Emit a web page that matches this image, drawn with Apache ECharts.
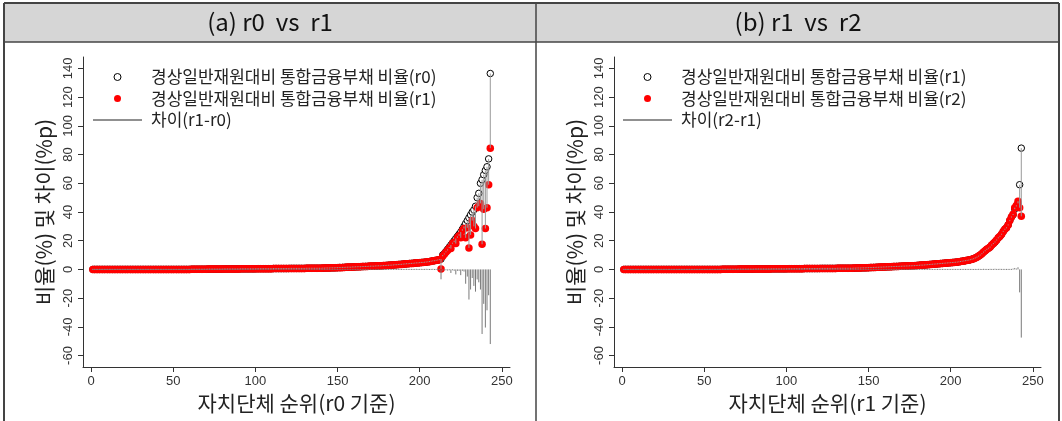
<!DOCTYPE html>
<html><head><meta charset="utf-8">
<script src="https://cdn.jsdelivr.net/npm/echarts@6/dist/echarts.min.js"></script>
<style>html,body{margin:0;padding:0;background:#fff}#c{width:1062px;height:421px}</style>
</head><body><div id="c"></div>
<script>
// ---- data ----
// Panel (a): municipalities ranked by r0
const A_R0 = [
0,0,0,0,0,0,0,0,0,0, 0,0,0,0,0,0,0,0,0,0, 0,0,0,0,0,0,0,0,0,0,
0,0,0,0,0,0,0,0,0,0, 0,0,0,0,0,0,0,0,0,0, 0,0,0,0,0,0,0,0,0,0,
0.1,0.1,0.1,0.1,0.1,0.1,0.1,0.1,0.1,0.1, 0.2,0.2,0.2,0.2,0.2,0.2,0.2,0.2,0.2,0.2,
0.3,0.3,0.3,0.3,0.3,0.3,0.3,0.3,0.3,0.3, 0.4,0.4,0.4,0.4,0.4,0.4,0.4,0.4,0.4,0.4,
0.5,0.5,0.5,0.5,0.5,0.5,0.5,0.5,0.5,0.5, 0.6,0.6,0.6,0.6,0.6,0.6,0.6,0.6,0.6,0.6,
0.7,0.7,0.7,0.7,0.7,0.7,0.7,0.7,0.7,0.7, 0.8,0.8,0.8,0.8,0.8,0.8,0.8,0.8,0.8,0.8,
0.9,0.9,1.0,1.0,1.0,1.1,1.1,1.1,1.2,1.2,
1.3,1.3,1.4,1.4,1.5,1.5,1.6,1.6,1.7,1.7, 1.8,1.8,1.9,1.9,2.0,2.0,2.1,2.1,2.2,2.2,
2.3,2.3,2.4,2.4,2.5,2.5,2.6,2.6,2.7,2.8, 2.9,3.0,3.0,3.1,3.2,3.3,3.4,3.5,3.6,3.7,
3.8,3.9,4.0,4.1,4.2,4.3,4.4,4.5,4.6,4.7, 4.8,4.9,5.0,5.1,5.3,5.5,5.7,5.9,6.1,6.3,
6.5,6.8,7.2,
10.0,11.0,12.5,14.0,15.5,17.0,18.5,20.0,21.5,23.0,
24.5,26.0,28.0,30.0,32.0,34.0,36.0,38.0,40.0,41.5,
44.0,50.0,53.0,60.0,62.5,66.0,69.0,71.5,77.0,136.5
];
const A_R1 = [
0,0,0,0,0,0,0,0,0,0, 0,0,0,0,0,0,0,0,0,0, 0,0,0,0,0,0,0,0,0,0,
0,0,0,0,0,0,0,0,0,0, 0,0,0,0,0,0,0,0,0,0, 0,0,0,0,0,0,0,0,0,0,
0.1,0.1,0.1,0.1,0.1,0.1,0.1,0.1,0.1,0.1, 0.2,0.2,0.2,0.2,0.2,0.2,0.2,0.2,0.2,0.2,
0.3,0.3,0.3,0.3,0.3,0.3,0.3,0.3,0.3,0.3, 0.4,0.4,0.4,0.4,0.4,0.4,0.4,0.4,0.4,0.4,
0.5,0.5,0.5,0.5,0.5,0.5,0.5,0.5,0.5,0.5, 0.6,0.6,0.6,0.6,0.6,0.6,0.6,0.6,0.6,0.6,
0.7,0.7,0.7,0.7,0.7,0.7,0.7,0.7,0.7,0.7, 0.8,0.8,0.8,0.8,0.8,0.8,0.8,0.8,0.8,0.8,
0.9,0.9,1.0,1.0,1.0,1.1,1.1,1.1,1.2,1.2,
1.3,1.2,1.4,1.4,1.5,1.6,1.6,1.5,1.7,1.7, 1.8,1.9,1.9,1.8,2.0,2.0,2.1,2.0,2.2,2.3,
2.3,2.2,2.4,2.5,2.5,2.4,2.6,2.7,2.7,2.8, 2.9,2.9,3.0,3.1,3.3,3.2,3.4,3.5,3.5,3.7,
3.8,4.0,3.9,4.1,4.2,4.2,4.4,4.6,4.5,4.7, 4.9,4.8,5.0,5.2,5.3,5.4,5.7,6.0,6.0,6.3,
6.6,6.8,0.3,
9.2,10.5,12.0,13.2,15.0,14.5,18.0,19.0,18.0,22.0,
23.5,22.0,27.0,28.5,22.0,29.0,15.0,24.0,34.0,30.0,
28.5,43.0,44.0,46.0,17.5,42.0,28.5,43.0,59.0,84.5
];
// Panel (b): municipalities ranked by r1
const B_R1 = [
0,0,0,0,0,0,0,0,0,0, 0,0,0,0,0,0,0,0,0,0, 0,0,0,0,0,0,0,0,0,0,
0,0,0,0,0,0,0,0,0,0, 0,0,0,0,0,0,0,0,0,0, 0,0,0,0,0,0,0,0,0,0,
0.1,0.1,0.1,0.1,0.1,0.1,0.1,0.1,0.1,0.1, 0.2,0.2,0.2,0.2,0.2,0.2,0.2,0.2,0.2,0.2,
0.3,0.3,0.3,0.3,0.3,0.3,0.3,0.3,0.3,0.3, 0.4,0.4,0.4,0.4,0.4,0.4,0.4,0.4,0.4,0.4,
0.5,0.5,0.5,0.5,0.5,0.5,0.5,0.5,0.5,0.5, 0.6,0.6,0.6,0.6,0.6,0.6,0.6,0.6,0.6,0.6,
0.7,0.7,0.7,0.7,0.7,0.7,0.7,0.7,0.7,0.7, 0.8,0.8,0.8,0.8,0.8,0.8,0.8,0.8,0.8,0.8,
0.9,0.9,1.0,1.0,1.0,1.1,1.1,1.1,1.2,1.2,
1.3,1.3,1.4,1.4,1.5,1.5,1.6,1.6,1.7,1.7, 1.8,1.8,1.9,1.9,2.0,2.0,2.1,2.1,2.2,2.2,
2.3,2.3,2.4,2.4,2.5,2.5,2.6,2.6,2.7,2.8, 2.9,3.0,3.0,3.1,3.2,3.3,3.4,3.5,3.6,3.7,
3.8,3.9,4.0,4.1,4.2,4.3,4.4,4.5,4.6,4.7, 4.8,4.9,5.0,5.1,5.3,5.5,5.7,5.9,6.1,6.3,
6.5,6.8,7.1,
7.5,8.0,8.6,9.2,10.0,11.0,12.0,13.0,14.0,14.8,
15.5,17.0,18.0,19.0,20.5,22.0,23.0,24.5,26.5,28.0,
29.0,31.0,34.0,36.5,38.0,42.0,44.0,46.0,59.0,84.5
];
const B_R2 = [
0,0,0,0,0,0,0,0,0,0, 0,0,0,0,0,0,0,0,0,0, 0,0,0,0,0,0,0,0,0,0,
0,0,0,0,0,0,0,0,0,0, 0,0,0,0,0,0,0,0,0,0, 0,0,0,0,0,0,0,0,0,0,
0.1,0.1,0.1,0.1,0.1,0.1,0.1,0.1,0.1,0.1, 0.2,0.2,0.2,0.2,0.2,0.2,0.2,0.2,0.2,0.2,
0.3,0.3,0.3,0.3,0.3,0.3,0.3,0.3,0.3,0.3, 0.4,0.4,0.4,0.4,0.4,0.4,0.4,0.4,0.4,0.4,
0.5,0.5,0.5,0.5,0.5,0.5,0.5,0.5,0.5,0.5, 0.6,0.6,0.6,0.6,0.6,0.6,0.6,0.6,0.6,0.6,
0.7,0.7,0.7,0.7,0.7,0.7,0.7,0.7,0.7,0.7, 0.8,0.8,0.8,0.8,0.8,0.8,0.8,0.8,0.8,0.8,
0.9,0.9,1.0,1.0,1.0,1.1,1.1,1.1,1.2,1.2,
1.3,1.3,1.4,1.4,1.5,1.5,1.6,1.6,1.7,1.7, 1.8,1.8,1.9,1.9,2.0,2.1,2.1,2.1,2.2,2.2,
2.3,2.3,2.4,2.4,2.5,2.5,2.6,2.6,2.7,2.8, 2.9,3.0,3.0,3.1,3.2,3.3,3.4,3.5,3.6,3.7,
3.8,3.9,4.0,4.1,4.2,4.3,4.4,4.5,4.6,4.7, 4.8,4.9,5.0,5.1,5.3,5.5,5.7,5.9,6.1,6.3,
6.5,6.8,7.1,
7.4,8.0,8.5,9.3,10.0,10.9,12.1,13.0,14.0,14.7,
15.6,17.0,18.0,19.2,20.5,22.0,23.1,24.5,26.5,28.0,
29.0,31.0,34.0,36.5,38.5,43.0,44.5,47.5,43.0,37.0
];
const Y_TICKS = [-60,-40,-20,0,20,40,60,80,100,120,140];
const X_TICKS = [0,50,100,150,200,250];
const TITLES = ['(a) r0  vs  r1', '(b) r1  vs  r2'];
const X_NAMES = ['자치단체 순위(r0 기준)', '자치단체 순위(r1 기준)'];
const Y_NAME = '비율(%) 및 차이(%p)';
const LEG_A = ['경상일반재원대비 통합금융부채 비율(r0)', '경상일반재원대비 통합금융부채 비율(r1)', '차이(r1-r0)'];
const LEG_B = ['경상일반재원대비 통합금융부채 비율(r1)', '경상일반재원대비 통합금융부채 비율(r2)', '차이(r2-r1)'];

// ---- build ----
const KR = "'Noto Sans CJK KR', sans-serif";
const NUM = "'Liberation Sans', Arial, sans-serif";

function vseg(p1, p2, color) {
  let y1 = p1[1], y2 = p2[1];
  if (Math.abs(y2 - y1) < 1) { const m = (y1 + y2) / 2; y1 = m - 0.5; y2 = m + 0.5; }
  return { type: 'line', shape: { x1: p1[0], y1: y1, x2: p2[0], y2: y2 },
           style: { stroke: color, lineWidth: 1 } };
}

function panelSeries(k, base, comp, legs) {
  const pts0 = base.map((v, i) => [i + 1, v]);
  const pts1 = comp.map((v, i) => [i + 1, v]);
  const segs = base.map((v, i) => [i + 1, v, comp[i]]);
  const diffs = base.map((v, i) => [i + 1, comp[i] - v]);
  return [
    { name: legs[0], type: 'scatter', xAxisIndex: k, yAxisIndex: k, data: pts0, z: 2,
      symbol: 'circle', symbolSize: 6.5,
      itemStyle: { color: '#fff', borderColor: '#000', borderWidth: 1, opacity: 1 }, silent: true },
    { name: legs[1], type: 'scatter', xAxisIndex: k, yAxisIndex: k, data: pts1, z: 3,
      symbol: 'circle', symbolSize: 7.5, itemStyle: { color: '#ff0000', opacity: 1 }, silent: true },
    { name: 'seg' + k, type: 'custom', xAxisIndex: k, yAxisIndex: k, data: segs, z: 4, silent: true,
      encode: { x: 0, y: [1, 2] },
      renderItem: (p, api) => vseg(api.coord([api.value(0), api.value(1)]), api.coord([api.value(0), api.value(2)]), '#9a9a9a') },
    { name: legs[2], type: 'custom', xAxisIndex: k, yAxisIndex: k, data: diffs, z: 4, silent: true,
      encode: { x: 0, y: 1 },
      renderItem: (p, api) => vseg(api.coord([api.value(0), 0]), api.coord([api.value(0), api.value(1)]), '#7a7a7a') }
  ];
}

function xAxis(k) {
  return { gridIndex: k, type: 'value', min: -5, max: 255,
    axisLine: { show: true, onZero: false, lineStyle: { color: '#333', width: 1 } },
    axisTick: { show: true, length: 5, customValues: X_TICKS, lineStyle: { color: '#333' } },
    axisLabel: { customValues: X_TICKS, color: '#333', fontSize: 13, margin: 8, fontFamily: NUM },
    splitLine: { show: false },
    name: X_NAMES[k], nameLocation: 'middle', nameGap: 26,
    nameTextStyle: { fontSize: 21, color: '#222', fontFamily: KR } };
}
function yAxis(k) {
  return { gridIndex: k, type: 'value', min: -68, max: 148,
    axisLine: { show: true, onZero: false, lineStyle: { color: '#333', width: 1 } },
    axisTick: { show: true, length: 5, customValues: Y_TICKS, lineStyle: { color: '#333' } },
    axisLabel: { customValues: Y_TICKS, rotate: 90, color: '#333', fontSize: 13, margin: 8, fontFamily: NUM },
    splitLine: { show: false },
    name: Y_NAME, nameLocation: 'middle', nameRotate: 90, nameGap: 28,
    nameTextStyle: { fontSize: 21, color: '#222', fontFamily: KR } };
}
function legend(left, legs) {
  return { left: left, top: 68, padding: 0, orient: 'vertical', align: 'left', itemWidth: 49, itemHeight: 7, itemGap: 3.5,
    selectedMode: false,
    textStyle: { fontSize: 17, color: '#222', fontFamily: KR, lineHeight: 18, padding: [0, 0, 0, 4] },
    data: [
      { name: legs[0], icon: 'circle', itemStyle: { color: '#fff', borderColor: '#000', borderWidth: 1 } },
      { name: legs[1], icon: 'circle', itemStyle: { color: '#ff0000', borderWidth: 0 } },
      { name: legs[2], icon: 'path://M0,0L49,0L49,1L0,1Z', itemStyle: { color: '#222', borderWidth: 0 } }
    ] };
}

const border = '#444';
const option = {
  animation: false,
  backgroundColor: '#fff',
  grid: [
    { left: 83, top: 57, width: 427, height: 310 },
    { left: 614, top: 57, width: 427, height: 310 }
  ],
  xAxis: [xAxis(0), xAxis(1)],
  yAxis: [yAxis(0), yAxis(1)],
  legend: [legend(93, LEG_A), legend(623, LEG_B)],
  graphic: [
    { type: 'rect', shape: { x: 4, y: 3, width: 1055, height: 39 }, style: { fill: '#d6d6d6' }, z: -1 },
    { type: 'line', shape: { x1: 4, y1: 3, x2: 1059, y2: 3 }, style: { stroke: border, lineWidth: 2 } },
    { type: 'line', shape: { x1: 4, y1: 42, x2: 1059, y2: 42 }, style: { stroke: border, lineWidth: 1.5 } },
    { type: 'line', shape: { x1: 4, y1: 3, x2: 4, y2: 421 }, style: { stroke: border, lineWidth: 2 } },
    { type: 'line', shape: { x1: 1059, y1: 3, x2: 1059, y2: 421 }, style: { stroke: border, lineWidth: 2 } },
    { type: 'line', shape: { x1: 536, y1: 3, x2: 536, y2: 421 }, style: { stroke: border, lineWidth: 1.5 } },
    { type: 'text', x: 270, y: 22, style: { text: TITLES[0], fill: '#111', fontSize: 24, fontFamily: KR, align: 'center', verticalAlign: 'middle' } },
    { type: 'text', x: 798, y: 22, style: { text: TITLES[1], fill: '#111', fontSize: 24, fontFamily: KR, align: 'center', verticalAlign: 'middle' } }
  ],
  series: [].concat(panelSeries(0, A_R0, A_R1, LEG_A), panelSeries(1, B_R1, B_R2, LEG_B))
};
const chart = echarts.init(document.getElementById('c'), null, { renderer: 'canvas' });
chart.setOption(option);
</script></body></html>
